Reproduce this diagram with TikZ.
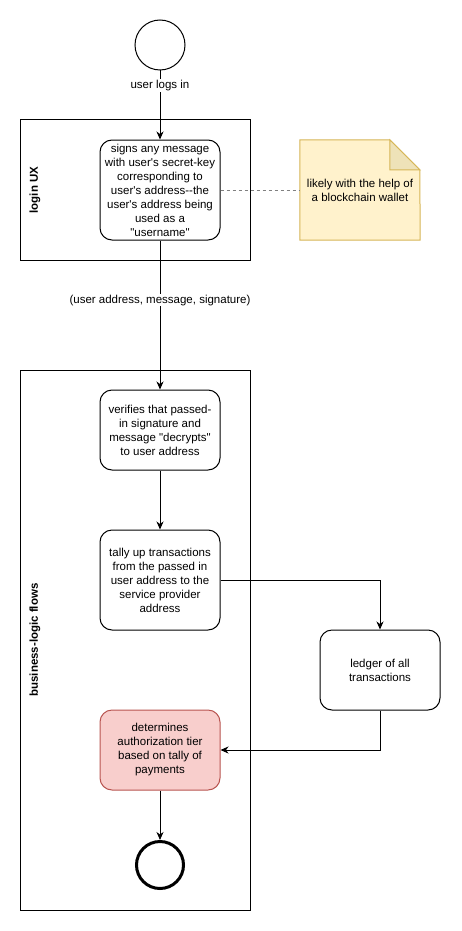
\documentclass[tikz,border=0pt]{standalone}
\usepackage{fontspec}
\newfontfamily\diafont{Liberation Sans}
\usetikzlibrary{positioning, arrows.meta}

\definecolor{notefill}{HTML}{FFF2CC}
\definecolor{noteline}{HTML}{D6B656}
\definecolor{notefold}{HTML}{EEE2B8}
\definecolor{alertfill}{HTML}{F8CECC}
\definecolor{alertline}{HTML}{B85450}

\tikzset{
    every node/.style = {font=\diafont\fontsize{11.5pt}{14pt}\selectfont},
    flow/.style = {line width=1pt, -{Stealth[length=8pt, width=7pt, inset=2.5pt]}},
    task/.style = {draw, line width=1pt, rounded corners=12pt, minimum width=120pt, minimum height=80pt, align=center, inner sep=0pt},
    pool/.style = {draw, line width=1pt, minimum width=230pt, inner sep=0pt},
    poollabel/.style = {rotate=90, font=\diafont\bfseries\fontsize{11.5pt}{14pt}\selectfont},
    event/.style = {draw, circle, minimum size=50pt, inner sep=0pt}
}

\begin{document}
\begin{tikzpicture}[x=1pt, y=-1pt]
                \useasboundingbox (0, 0) rectangle (461, 931);

                % swimlanes
                \node [pool, minimum height=140pt] (loginpool) at (135, 190) {};
                \node [poollabel] (loginlabel) at (35, 190) {login UX};
                \node [pool, minimum height=540pt] (logicpool) at (135, 640) {};
                \node [poollabel] (logiclabel) at (35, 640) {business-logic flows};

                \node [event, line width=1pt] (start) at (160, 45) {};
                \node [task, minimum height=100pt] (sign) at (160, 190) {signs any message\\with user's secret-key\\corresponding to\\user's address-{}-the\\user's address being\\used as a\\"username"};
                \node [minimum width=120pt, minimum height=100pt, inner sep=0pt] (wallet) at (360, 190) {};
                \node [task] (verify) at (160, 430) {verifies that passed-\\in signature and\\message "decrypts"\\to user address};
                \node [task, minimum height=100pt] (tally) at (160, 580) {tally up transactions\\from the passed in\\user address to the\\service provider\\address};
                \node [task] (ledger) at (380, 670) {ledger of all\\transactions};
                \node [task, fill=alertfill, draw=alertline] (tier) at (160, 750) {determines\\authorization tier\\based on tally of\\payments};
                \node [event, line width=3pt, minimum size=47pt] (end) at (160, 865) {};

                % note with folded corner
                \draw [noteline, fill=notefill, line width=1pt] (wallet.north west) -- ++(90, 0) -- ++(30, 30) -- (wallet.south east) -- (wallet.south west) -- cycle;
                \draw [noteline, fill=notefold, line width=1pt] (wallet.north west) ++(90, 0) -- ++(30, 30) -- ++(-30, 0) -- cycle;
                \node [align=center, inner sep=0pt] (wallettext) at (wallet) {likely with the help of\\a blockchain wallet};

                \draw [flow] (start) -- (sign) node [pos=0.22, fill=white, inner sep=1pt] {user logs in};
                \draw [gray, dashed, line width=0.8pt] (sign) -- (wallet);
                \draw [flow] (sign) -- (verify) node [pos=0.4, fill=white, inner sep=1pt] {(user address, message, signature)};
                \draw [flow] (verify) -- (tally);
                \draw [flow] (tally) -| (ledger);
                \draw [flow] (ledger) |- (tier);
                \draw [flow] (tier) -- (end);
            \end{tikzpicture}
\end{document}
